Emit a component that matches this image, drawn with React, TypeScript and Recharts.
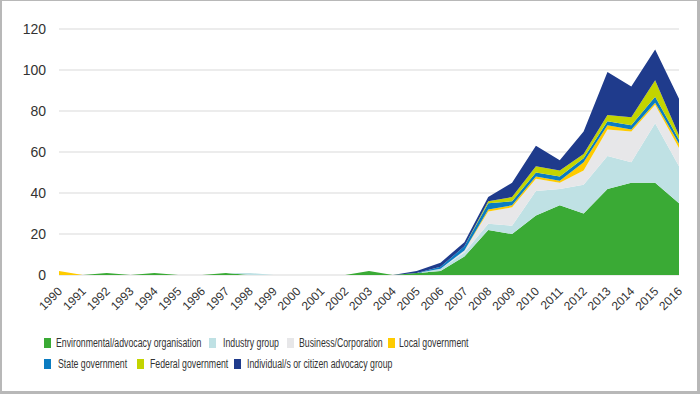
import React from 'react';
import { AreaChart, Area, XAxis, YAxis, CartesianGrid } from 'recharts';

const years = [
  '1990','1991','1992','1993','1994','1995','1996','1997','1998','1999',
  '2000','2001','2002','2003','2004','2005','2006','2007','2008','2009',
  '2010','2011','2012','2013','2014','2015','2016',
];

// values per year, 1990..2016
const environmental = [0,0,1,0,1,0,0,1,0,0, 0,0,0,2,0,1,2,9,22,20, 29,34,30,42,45,45,35];
const industry      = [0,0,0,0,0,0,0,0,1,0, 0,0,0,0,0,0,1,2,3,4, 12,8,14,16,10,29,18];
const business      = [0,0,0,0,0,0,0,0,0,0, 0,0,0,0,0,0,0,1,6,9, 6,3,7,13,15,9,9];
const localGov      = [2,0,0,0,0,0,0,0,0,0, 0,0,0,0,0,0,0,0,1,1, 1,1,4,2,1,1,2];
const stateGov      = [0,0,0,0,0,0,0,0,0,0, 0,0,0,0,0,0,1,2,3,2, 2,2,2,2,2,3,2];
const federalGov    = [0,0,0,0,0,0,0,0,0,0, 0,0,0,0,0,0,0,0,1,2, 3,3,2,3,4,8,2];
const individual    = [0,0,0,0,0,0,0,0,0,0, 0,0,0,0,0,1,2,2,2,7, 10,5,11,21,15,15,18];

const yTicks = [0, 20, 40, 60, 80, 100, 120];

const series = [
  { key: 'env', name: 'Environmental/advocacy organisation', color: '#3aaa35', values: environmental },
  { key: 'ind', name: 'Industry group', color: '#bfe1e4', values: industry },
  { key: 'bus', name: 'Business/Corporation', color: '#e7e7e9', values: business },
  { key: 'loc', name: 'Local government', color: '#fecb00', values: localGov },
  { key: 'sta', name: 'State government', color: '#0b7cc1', values: stateGov },
  { key: 'fed', name: 'Federal government', color: '#c3d400', values: federalGov },
  { key: 'indv', name: 'Individual/s or citizen advocacy group', color: '#1f3b8c', values: individual },
];

const data = years.map((y, i) => {
  const row: Record<string, string | number> = { year: y };
  series.forEach((s) => { row[s.key] = s.values[i]; });
  return row;
});

// legend layout (pixel placement only)
const legendLayout = [
  { sq: 44, tx: 56, top: 338 },
  { sq: 209, tx: 223, top: 338 },
  { sq: 287, tx: 299, top: 338 },
  { sq: 388, tx: 399, top: 338 },
  { sq: 44, tx: 58, top: 359 },
  { sq: 137, tx: 150, top: 359 },
  { sq: 234, tx: 247, top: 359 },
];

const FONT = '"Liberation Sans", Arial, sans-serif';

const XTick = (props: any) => {
  const { x, y, payload } = props;
  const ax = x + 4;
  const ay = y + 17;
  return (
    <text
      x={ax}
      y={ay}
      transform={`rotate(-45, ${ax}, ${ay})`}
      textAnchor="end"
      fontSize={12}
      fontFamily={FONT}
      fill="#333"
    >
      {payload.value}
    </text>
  );
};

export default function App() {
  return (
    <div style={{ position: 'absolute', left: 0, top: 0, width: 700, height: 394, background: '#fff', fontFamily: FONT }}>
      <AreaChart
        width={700}
        height={394}
        data={data}
        margin={{ top: 29, right: 21, left: 0, bottom: 79 }}
      >
        <CartesianGrid vertical={false} stroke="#d9d9d9" strokeWidth={1} />
        <XAxis
          dataKey="year"
          interval={0}
          axisLine={false}
          tickLine={false}
          tickSize={0}
          tickMargin={0}
          height={40}
          tick={<XTick />}
        />
        <YAxis
          domain={[0, 120]}
          ticks={yTicks}
          width={59}
          axisLine={false}
          tickLine={false}
          tickSize={0}
          tickMargin={13}
          tick={{ fontSize: 14, fill: '#333', fontFamily: FONT }}
        />
        {series.map((s) => (
          <Area
            key={s.key}
            dataKey={s.key}
            name={s.name}
            stackId="1"
            type="linear"
            stroke="none"
            fill={s.color}
            fillOpacity={1}
            isAnimationActive={false}
          />
        ))}
      </AreaChart>
      {series.map((s, i) => {
        const l = legendLayout[i];
        return (
          <React.Fragment key={s.key}>
            <div style={{ position: 'absolute', left: l.sq, top: l.top, width: 7, height: 10, background: s.color }} />
            <div
              style={{
                position: 'absolute',
                left: l.tx,
                top: l.top - 1,
                fontSize: 12.5,
                lineHeight: '12px',
                color: '#333',
                whiteSpace: 'nowrap',
                transform: 'scaleX(0.70)',
                transformOrigin: 'left top',
              }}
            >
              {s.name}
            </div>
          </React.Fragment>
        );
      })}
      <div
        style={{
          position: 'absolute',
          left: 0,
          top: 0,
          width: 700,
          height: 394,
          boxSizing: 'border-box',
          borderStyle: 'solid',
          borderColor: '#b8b8b8',
          borderWidth: '1px 3px 3px 2px',
          pointerEvents: 'none',
        }}
      />
    </div>
  );
}
